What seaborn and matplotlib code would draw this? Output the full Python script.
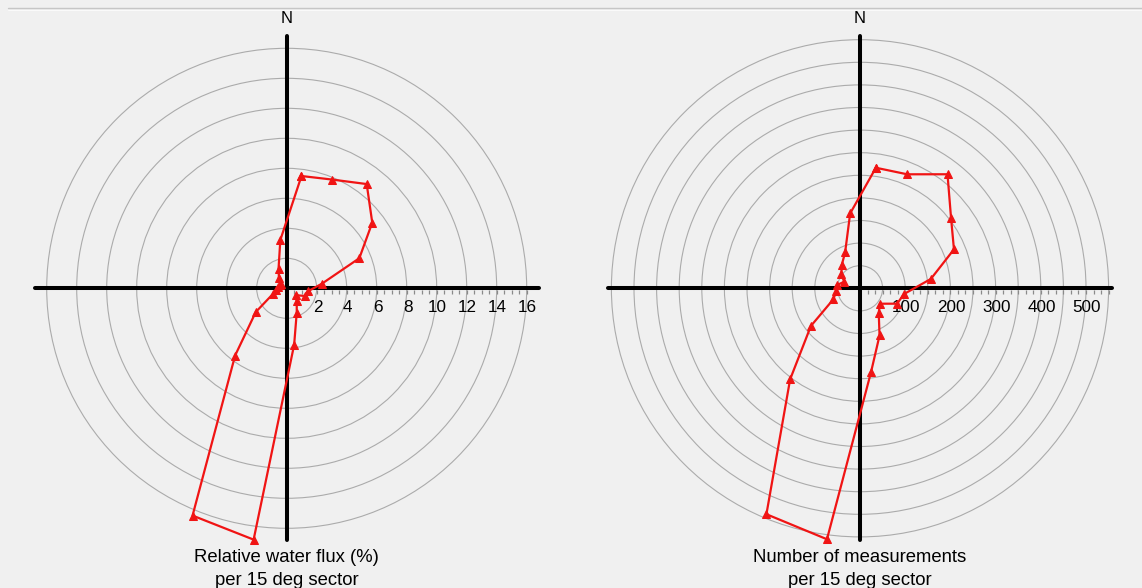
import numpy as np
import pandas as pd
import matplotlib
matplotlib.use("Agg")
import matplotlib.pyplot as plt
from matplotlib.patches import Circle
from matplotlib.lines import Line2D
import seaborn as sns

# Sector centres (degrees clockwise from north), 15 deg sectors
sector_deg = [7.5, 22.5, 37.5, 52.5, 67.5, 82.5, 97.5, 112.5, 127.5, 142.5, 157.5, 172.5,
              187.5, 202.5, 217.5, 232.5, 247.5, 262.5, 277.5, 292.5, 307.5, 322.5, 337.5, 352.5]

# Relative water flux (%) per sector
flux_pct = [7.55, 7.85, 8.76, 7.19, 5.24, 2.37, 1.45, 1.35, 0.75, 1.1, 1.75, 3.8,
            16.9, 16.4, 5.65, 2.6, 1.0, 0.7, 0.6, 0.5, 0.5, 0.85, 1.42, 3.25]

# Number of measurements per sector
n_meas = [269, 273, 318, 254, 225, 158, 98, 89, 56, 68, 113, 187,
          560, 541, 254, 137, 64, 53, 52, 38, 52, 66, 86, 167]

flux_rings = [2, 4, 6, 8, 10, 12, 14, 16]
flux_labels = ["2", "4", "6", "8", "10", "12", "14", "16"]
count_rings = [50, 100, 150, 200, 250, 300, 350, 400, 450, 500, 550]
count_label_vals = [100, 200, 300, 400, 500]
count_labels = ["100", "200", "300", "400", "500"]

BG = "#f0f0f0"
RED = "#f01414"

sns.set_theme(style="white")
plt.rcParams["font.family"] = ["Liberation Sans", "DejaVu Sans"]
plt.rcParams["text.color"] = "black"

W, H = 1142, 588
fig = plt.figure(figsize=(W / 100, H / 100), dpi=100, facecolor=BG)

# thin frame line along the top edge
fig.add_artist(Line2D([8 / W, 1], [(H - 8) / H] * 2, color="#c6c6c6", lw=1.0))
fig.add_artist(Line2D([8 / W, 1], [(H - 9.5) / H] * 2, color="#fafafa", lw=0.8))


def rose(cx, cy, px_per_unit, rings, minor_step, label_vals, labels, values, title_lines):
    half = 270
    ax = fig.add_axes([(cx - half) / W, (H - cy - half) / H, 2 * half / W, 2 * half / H])
    ax.set_facecolor("none")
    lim = half / px_per_unit
    px = 1.0 / px_per_unit

    for r in rings:
        ax.add_patch(Circle((0, 0), r, fill=False, edgecolor="#ababab", lw=0.8, zorder=1))

    arm = 252 * px
    ax.plot([-arm, arm], [0, 0], color="black", lw=2.9, solid_capstyle="round", zorder=2)
    ax.plot([0, 0], [-arm, arm], color="black", lw=2.9, solid_capstyle="round", zorder=2)

    ticks = np.arange(minor_step, rings[-1] + 0.8 * minor_step, minor_step)
    ax.vlines(ticks, -5.5 * px, -1.5 * px, color="#8a8a8a", lw=0.9, zorder=2)

    for v, s in zip(label_vals, labels):
        ax.text(v + 1.0 * px, -19 * px, s, ha="center", va="center", fontsize=12.3,
                color="black", zorder=3)

    ax.text(0, 270 * px, "N", ha="center", va="center", fontsize=12, color="black",
            clip_on=False)
    ax.text(0, -269.4 * px, title_lines[0], ha="center", va="center", fontsize=13.3,
            color="black", clip_on=False)
    ax.text(0, -292.0 * px, title_lines[1], ha="center", va="center", fontsize=13.3,
            color="black", clip_on=False)

    th = np.deg2rad(np.array(sector_deg + sector_deg[:1]))
    rv = np.array(values + values[:1], dtype=float)
    df = pd.DataFrame({"x": rv * np.sin(th), "y": rv * np.cos(th)})
    sns.lineplot(data=df, x="x", y="y", sort=False, estimator=None, ax=ax, color=RED,
                 lw=1.6, marker="^", markersize=5.5, markeredgecolor=RED,
                 markerfacecolor=RED, zorder=4, legend=False)
    ax.set_xlim(-lim, lim)
    ax.set_ylim(-lim, lim)
    ax.axis("off")
    return ax


rose(286.7, 288.3, 15.0, flux_rings, 0.5, flux_rings, flux_labels, flux_pct,
     ["Relative water flux (%)", "per 15 deg sector"])
rose(860.0, 288.3, 0.452, count_rings, 50 / 3, count_label_vals, count_labels, n_meas,
     ["Number of measurements", "per 15 deg sector"])

fig.savefig("out.png", dpi=100, facecolor=BG)
